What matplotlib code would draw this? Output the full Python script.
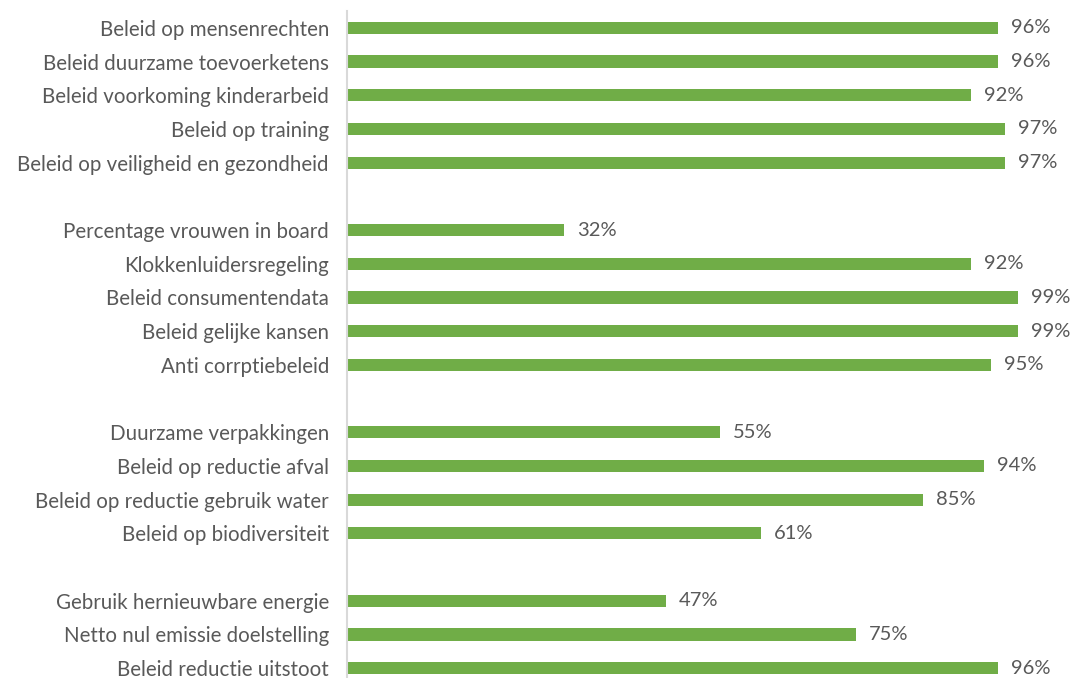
import matplotlib
matplotlib.use("Agg")
import matplotlib.pyplot as plt

categories = [
    "Beleid op mensenrechten",
    "Beleid duurzame toevoerketens",
    "Beleid voorkoming kinderarbeid",
    "Beleid op training",
    "Beleid op veiligheid en gezondheid",
    "Percentage vrouwen in board",
    "Klokkenluidersregeling",
    "Beleid consumentendata",
    "Beleid gelijke kansen",
    "Anti corrptiebeleid",
    "Duurzame verpakkingen",
    "Beleid op reductie afval",
    "Beleid op reductie gebruik water",
    "Beleid op biodiversiteit",
    "Gebruik hernieuwbare energie",
    "Netto nul emissie doelstelling",
    "Beleid reductie uitstoot",
]
values = [96, 96, 92, 97, 97, 32, 92, 99, 99, 95, 55, 94, 85, 61, 47, 75, 96]
group_sizes = [5, 5, 4, 3]

# slot positions with one empty slot between groups
positions = []
slot = 0
for g in group_sizes:
    for _ in range(g):
        positions.append(slot)
        slot += 1
    slot += 1
n_slots = slot - 1

W, H = 1076, 678
fig = plt.figure(figsize=(W / 100, H / 100), dpi=100)
ax_left, ax_right = 347, 1025
ax_top, ax_bottom = 11, 685
ax = fig.add_axes([ax_left / W, 1 - ax_bottom / H, (ax_right - ax_left) / W, (ax_bottom - ax_top) / H])

green = "#70AD47"
txt = "#595959"
font = "Lato"

ax.barh(positions, values, height=0.36, color=green)
ax.set_xlim(0, 100)
ax.set_ylim(n_slots - 0.5, -0.5)

for p, v in zip(positions, values):
    ax.text(v + 1.9, p, f"{v}%", va="center", ha="left", fontsize=14.5, color=txt, family=font, clip_on=False)

ax.set_yticks(positions)
ax.set_yticklabels(categories, fontsize=14.8, color=txt, family=font)
ax.tick_params(axis="y", length=0, pad=13)
ax.set_xticks([])
for s in ["top", "right", "bottom"]:
    ax.spines[s].set_visible(False)
ax.spines["left"].set_color("#D9D9D9")
ax.spines["left"].set_linewidth(1.5)

fig.savefig("out.png", dpi=100)
